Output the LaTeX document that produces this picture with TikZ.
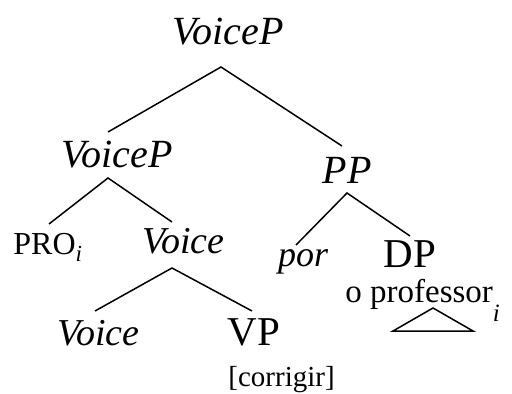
\documentclass[tikz,border=0pt]{standalone}
\usepackage{fontspec}
\setmainfont{Liberation Serif}

\begin{document}
\begin{tikzpicture}[
  x=0.5pt, y=-0.5pt,
  cat/.style={inner sep=0pt, anchor=base, font=\fontsize{20}{24}\selectfont\itshape},
  head/.style={cat, font=\fontsize{19}{23}\selectfont\itshape},
  lex/.style={inner sep=0pt, anchor=base, font=\fontsize{20.5}{24}\selectfont},
  word/.style={inner sep=0pt, anchor=base west, font=\fontsize{#1}{#1}\selectfont},
  branch/.style={line width=0.75pt}
]
  \useasboundingbox (0,0) rectangle (512,394);

  % labels, placed on their baselines
  \node[cat] (root) at (228,45) {VoiceP};
  \node[cat] (vpl) at (117,168) {VoiceP};
  \node[cat] (pp) at (347,184) {PP};
  \node[word=16] (pro) at (13,255) {PRO\raisebox{-3.5pt}{\fontsize{11.5}{12}\selectfont\itshape i}};
  \node[head] (vbar) at (183.5,254) {Voice};
  \node[cat, font=\fontsize{18}{22}\selectfont\itshape] (por) at (303,267) {por};
  \node[lex] (dp) at (410,268) {DP};
  \node[word=16.5] (prof) at (345,302) {o professor\raisebox{-9.5pt}{\fontsize{12.5}{13}\selectfont\itshape i}};
  \node[head] (voice) at (98.5,345) {Voice};
  \node[lex] (vp) at (254,345) {VP};
  \node[word=14.5] (verb) at (228,386) {[corrigir]};

  % branches
  \draw[branch] ([shift={(-4.5pt,18pt)}]vpl.base) -- ([shift={(-3.5pt,-11pt)}]root.base) -- ([shift={(-2.5pt,19pt)}]pp.base);
  \draw[branch] ([shift={(18pt,15.5pt)}]pro.base west) -- ([shift={(-4.5pt,-5pt)}]vpl.base) -- ([shift={(-5.75pt,16pt)}]vbar.base);
  \draw[branch] ([shift={(-3.5pt,11pt)}]por.base) -- ([shift={(0pt,-4.5pt)}]pp.base) -- ([shift={(0pt,16pt)}]dp.base);
  \draw[branch] ([shift={(-1.75pt,17pt)}]voice.base) -- ([shift={(-5.75pt,-7pt)}]vbar.base) -- ([shift={(-1pt,17pt)}]vp.base);

  % roof under the DP
  \draw[branch] ([shift={(44pt,-3pt)}]prof.base west) -- ([shift={(24pt,-14.5pt)}]prof.base west)
    -- ([shift={(64pt,-14.5pt)}]prof.base west) -- cycle;
\end{tikzpicture}
\end{document}
